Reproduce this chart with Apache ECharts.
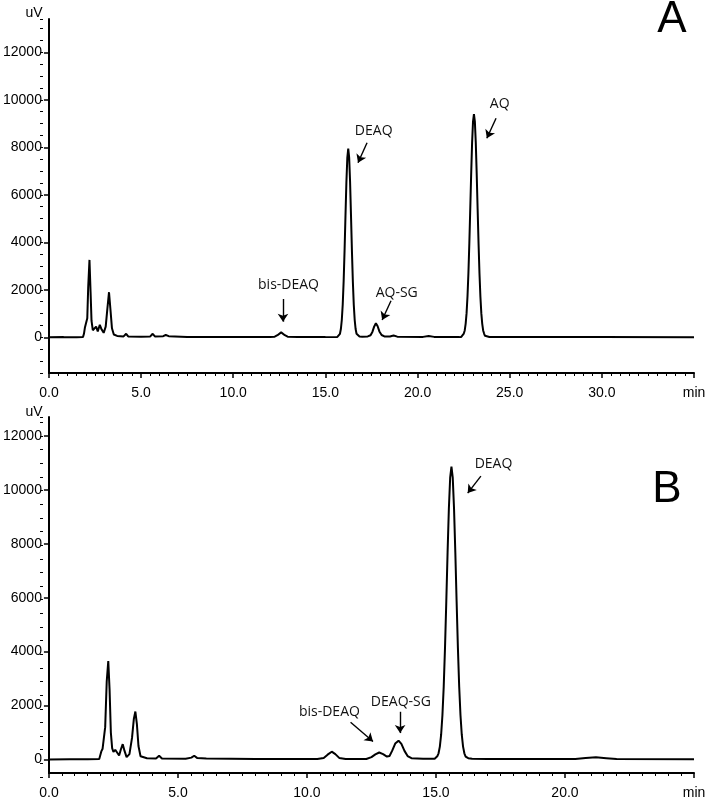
<!DOCTYPE html>
<html>
<head>
<meta charset="utf-8">
<script src="https://cdn.jsdelivr.net/npm/echarts@6/dist/echarts.min.js"></script>
<style>
  html, body { margin: 0; padding: 0; background: #fff; }
  #chart { width: 709px; height: 800px; }
</style>
</head>
<body>
<div id="chart"></div>
<script>
// panel A chromatogram, time in min, signal in uV
let timeA = [0.0, 0.8, 1.5, 1.85, 1.9, 1.95, 2.03, 2.08, 2.13, 2.2, 2.26, 2.31, 2.38, 2.47, 2.56, 2.65, 2.76, 2.86, 2.97,
  3.08, 3.17, 3.26, 3.34, 3.42, 3.52, 3.7, 4.05, 4.19, 4.3, 5.0, 5.5, 5.63, 5.75, 6.2, 6.34, 6.5, 7.5, 9.0, 11.0,
  12.0, 12.25, 12.4, 12.5, 12.6, 12.7, 12.8, 12.95, 13.5, 15.0, 15.65, 15.74, 15.79, 15.84, 15.89, 15.94, 15.99,
  16.04, 16.09, 16.14, 16.19, 16.24, 16.29, 16.34, 16.39, 16.44, 16.49, 16.54, 16.59, 16.64, 16.69, 16.74, 16.85,
  17.0, 17.3, 17.45, 17.55, 17.65, 17.74, 17.83, 17.93, 18.05, 18.2, 18.5, 18.7, 18.9, 20.3, 20.6, 20.9, 22.2,
  22.36, 22.46, 22.51, 22.56, 22.61, 22.66, 22.71, 22.76, 22.81, 22.86, 22.91, 22.96, 23.01, 23.06, 23.11, 23.16,
  23.21, 23.26, 23.31, 23.36, 23.41, 23.46, 23.51, 23.56, 23.61, 23.66, 23.76, 23.9, 24.2, 26.0, 30.0, 35.0];
let signalA = [0, 10, 0, 20, 150, 400, 430, 800, 2100, 3260, 1900, 700, 300, 380, 450, 250, 530, 330, 190,
  450, 1200, 1900, 1150, 380, 120, 60, 40, 150, 40, 30, 40, 150, 40, 50, 100, 50, 20, 10, 20,
  20, 30, 90, 170, 210, 170, 90, 30, 20, 10, 20, 60, 150, 350, 730, 1370, 2350,
  3640, 5120, 6540, 7570, 7950, 7570, 6540, 5120, 3640, 2350, 1370, 730, 350, 150, 80, 40,
  30, 40, 90, 230, 460, 590, 480, 250, 100, 40, 40, 80, 30, 20, 60, 20, 20,
  10, 64, 160, 290, 570, 1020, 1720, 2700, 3960, 5400, 6880, 8190, 9080, 9400, 9080, 8190,
  6880, 5400, 3960, 2700, 1720, 1020, 570, 290, 160, 64, 20, 15, 20, 10, 10, 0];

// panel B chromatogram
let timeB = [0.0, 0.8, 1.5, 1.95, 2.0, 2.03, 2.08, 2.13, 2.18, 2.24, 2.3, 2.35, 2.4, 2.45, 2.5, 2.57, 2.64, 2.72,
  2.79, 2.86, 2.93, 3.01, 3.12, 3.22, 3.29, 3.35, 3.41, 3.47, 3.55, 3.8, 4.15, 4.27, 4.38, 5.3, 5.52, 5.63, 5.74,
  6.1, 8.0, 10.4, 10.65, 10.8, 10.96, 11.1, 11.25, 11.5, 12.3, 12.5, 12.65, 12.8, 12.95, 13.1, 13.2, 13.3, 13.42,
  13.55, 13.66, 13.78, 13.9, 14.05, 14.5, 14.95, 15.05, 15.1, 15.15, 15.2, 15.25, 15.3, 15.35, 15.4, 15.45, 15.5,
  15.55, 15.6, 15.65, 15.7, 15.75, 15.8, 15.85, 15.9, 15.95, 16.0, 16.05, 16.1, 16.15, 16.25, 16.4, 17.0, 20.4,
  20.8, 21.2, 21.6, 22.0, 25.0];
let signalB = [0, 10, 10, 20, 60, 300, 400, 330, 1200, 2900, 3650, 2600, 1000, 420, 280, 360, 430, 150,
  380, 570, 320, 90, 200, 800, 1500, 1780, 1300, 500, 120, 50, 40, 140, 40, 30, 70, 140, 60,
  40, 20, 20, 60, 180, 290, 200, 60, 20, 20, 90, 190, 260, 200, 110, 130, 320, 590,
  700, 580, 320, 130, 50, 30, 30, 120, 230, 480, 920, 1640, 2700, 4140, 5860, 7680, 9310,
  10450, 10860, 10450, 9310, 7680, 5860, 4140, 2700, 1640, 920, 480, 230, 110, 50, 30, 20, 20,
  60, 80, 50, 20, 10];

let yTicks = [0, 2000, 4000, 6000, 8000, 10000, 12000];

// peak annotations: label position, arrow start, arrow end (data units)
let peakNamesA = ['bis-DEAQ', 'DEAQ', 'AQ-SG', 'AQ'];
let labelAtA = [[13.0, 2200], [17.62, 8700], [18.87, 1880], [24.46, 9820]];
let arrowFromA = [[12.7, 1615], [17.26, 8190], [18.56, 1540], [24.26, 9220]];
let arrowToA = [[12.7, 660], [16.77, 7350], [18.08, 730], [23.76, 8380]];

let peakNamesB = ['bis-DEAQ', 'DEAQ-SG', 'DEAQ'];
let labelAtB = [[10.87, 1750], [13.64, 2140], [17.23, 10940]];
let arrowFromB = [[11.69, 1380], [13.61, 1770], [16.74, 10510]];
let arrowToB = [[12.56, 670], [13.61, 980], [16.23, 9880]];

let chart = echarts.init(document.getElementById('chart'));
let axisFont = 'Liberation Sans, Arial, sans-serif';
let noteFont = 'Open Sans, Noto Sans, sans-serif';

let pairs = function (xs, ys) {
  let out = [];
  for (let i = 0; i < xs.length; i++) {
    out.push([xs[i], ys[i]]);
  }
  return out;
};

let xAxisFor = function (gridIndex, max) {
  return {
    gridIndex: gridIndex,
    type: 'value',
    min: 0,
    max: max,
    interval: 5,
    axisLine: {onZero: false, lineStyle: {color: '#000', width: 2}},
    axisTick: {length: 5, lineStyle: {color: '#000', width: 1.5}},
    minorTick: {show: true, splitNumber: 10, length: 3, lineStyle: {color: '#000', width: 1}},
    splitLine: {show: false},
    axisLabel: {
      margin: 13,
      fontSize: 14,
      color: '#000',
      fontFamily: axisFont,
      showMaxLabel: true,
      formatter: function (v) {
        return v === max ? 'min' : v.toFixed(1);
      }
    }
  };
};

let yAxisFor = function (gridIndex, min, max) {
  return {
    gridIndex: gridIndex,
    type: 'value',
    min: min,
    max: max,
    axisLine: {show: true, lineStyle: {color: '#000', width: 2}},
    axisTick: {show: true, length: 5, customValues: yTicks, lineStyle: {color: '#000', width: 1.5}},
    axisLabel: {
      customValues: yTicks,
      margin: 7,
      fontSize: 14,
      color: '#000',
      fontFamily: axisFont,
      formatter: function (v) {
        return String(v);
      }
    },
    splitLine: {show: false}
  };
};

// overlay axis just for the small ticks every 500
let minorYAxisFor = function (gridIndex, min, max) {
  return {
    gridIndex: gridIndex,
    type: 'value',
    min: min,
    max: max,
    interval: 500,
    axisLine: {show: false},
    axisTick: {show: true, length: 3, lineStyle: {color: '#000', width: 1}},
    axisLabel: {show: false},
    splitLine: {show: false}
  };
};

let notes = function (names, labelAt, from, to) {
  let points = [];
  let lines = [];
  for (let i = 0; i < names.length; i++) {
    points.push({name: names[i], coord: labelAt[i]});
    lines.push([{coord: from[i]}, {coord: to[i]}]);
  }
  return {
    markPoint: {
      symbol: 'circle',
      symbolSize: 0,
      silent: true,
      label: {show: true, position: 'inside', formatter: '{b}', fontSize: 14, color: '#111', fontFamily: noteFont},
      data: points
    },
    markLine: {
      silent: true,
      symbol: ['none', 'arrow'],
      symbolSize: 8,
      label: {show: false},
      lineStyle: {color: '#000', width: 1.4, type: 'solid'},
      data: lines
    }
  };
};

let traceSeries = function (index, data, ann) {
  let s = {
    type: 'line',
    xAxisIndex: index,
    yAxisIndex: index,
    data: data,
    showSymbol: false,
    lineStyle: {color: '#000', width: 2},
    animation: false
  };
  s.markPoint = ann.markPoint;
  s.markLine = ann.markLine;
  return s;
};

let letterStyle = function (text) {
  return {text: text, font: '44px "Liberation Sans", Arial', fill: '#000', align: 'center', verticalAlign: 'middle'};
};
let unitStyle = {text: 'uV', font: '14px "Liberation Sans", Arial', fill: '#000', align: 'center', verticalAlign: 'middle'};

let option = {
  backgroundColor: '#fff',
  animation: false,
  grid: [
    {left: 43, right: 15, top: 19, height: 354},
    {left: 43, right: 15, top: 417, height: 360},
    {left: 43, right: 15, top: 19, height: 354},
    {left: 43, right: 15, top: 417, height: 360}
  ],
  xAxis: [
    xAxisFor(0, 35),
    xAxisFor(1, 25),
    {gridIndex: 2, type: 'value', min: 0, max: 35, show: false},
    {gridIndex: 3, type: 'value', min: 0, max: 25, show: false}
  ],
  yAxis: [
    yAxisFor(0, -1500, 13400),
    yAxisFor(1, -500, 12700),
    minorYAxisFor(2, -1500, 13400),
    minorYAxisFor(3, -500, 12700)
  ],
  graphic: [
    {type: 'text', x: 672, y: 20, style: letterStyle('A')},
    {type: 'text', x: 667, y: 490, style: letterStyle('B')},
    {type: 'text', x: 34, y: 13, style: unitStyle},
    {type: 'text', x: 34, y: 412, style: unitStyle}
  ],
  series: [
    traceSeries(0, pairs(timeA, signalA), notes(peakNamesA, labelAtA, arrowFromA, arrowToA)),
    traceSeries(1, pairs(timeB, signalB), notes(peakNamesB, labelAtB, arrowFromB, arrowToB))
  ]
};
chart.setOption(option);
</script>
</body>
</html>
